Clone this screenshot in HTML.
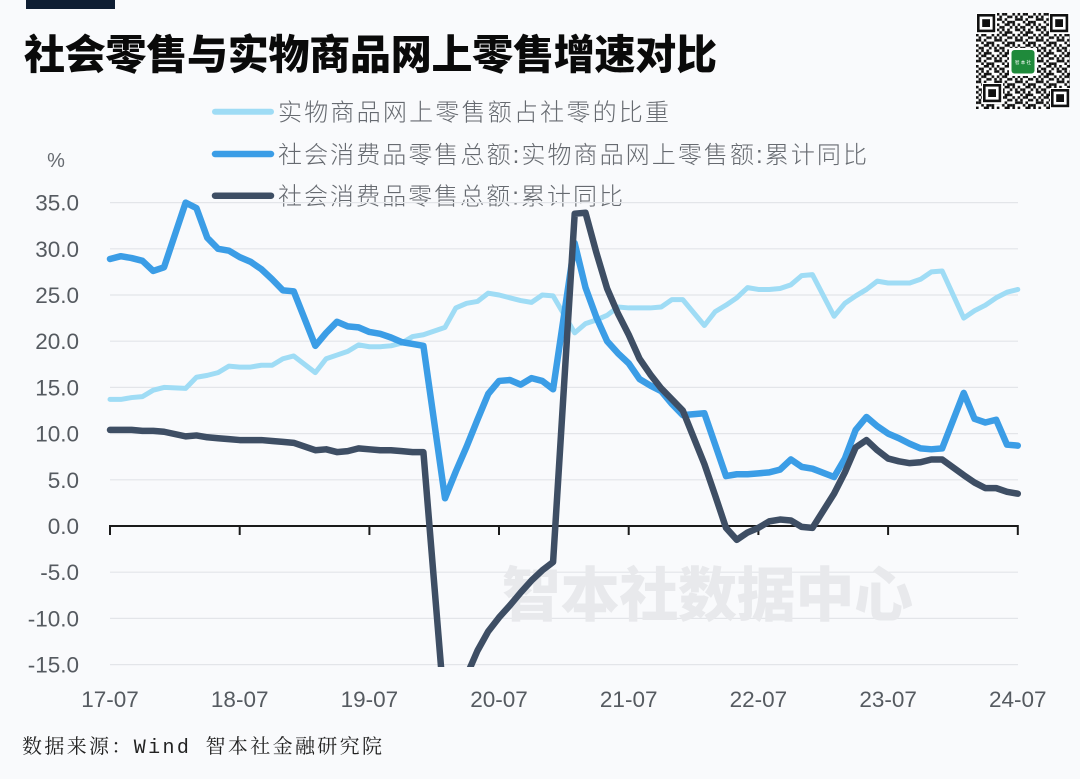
<!DOCTYPE html>
<html>
<head>
<meta charset="utf-8">
<style>
  html,body{margin:0;padding:0;background:#f9fafc;}
  svg{display:block;}
  .ylab{font-family:"Liberation Sans","Noto Sans CJK SC",sans-serif;font-size:22.5px;fill:#555a60;}
  .xlab{font-family:"Liberation Sans","Noto Sans CJK SC",sans-serif;font-size:22.5px;fill:#555a60;}
  .leg{font-family:"Liberation Sans","Noto Sans CJK SC",sans-serif;font-size:24px;font-weight:300;fill:#666a70;}
</style>
</head>
<body>
<svg width="1080" height="779" viewBox="0 0 1080 779" xmlns="http://www.w3.org/2000/svg">
  <defs>
    <clipPath id="plotclip" clipPathUnits="userSpaceOnUse">
      <rect x="100" y="199" width="930" height="468"/>
    </clipPath>
    <pattern id="qrpat" x="0" y="0" width="20.8" height="20.8" patternUnits="userSpaceOnUse">
      <g fill="#111">
        <rect x="0" y="0" width="2.6" height="2.6"/><rect x="5.2" y="0" width="2.6" height="2.6"/><rect x="7.8" y="0" width="2.6" height="2.6"/><rect x="15.6" y="0" width="2.6" height="2.6"/>
        <rect x="2.6" y="2.6" width="2.6" height="2.6"/><rect x="10.4" y="2.6" width="2.6" height="2.6"/><rect x="13" y="2.6" width="2.6" height="2.6"/><rect x="18.2" y="2.6" width="2.6" height="2.6"/>
        <rect x="0" y="5.2" width="2.6" height="2.6"/><rect x="2.6" y="5.2" width="2.6" height="2.6"/><rect x="7.8" y="5.2" width="2.6" height="2.6"/><rect x="18.2" y="5.2" width="2.6" height="2.6"/>
        <rect x="5.2" y="7.8" width="2.6" height="2.6"/><rect x="10.4" y="7.8" width="2.6" height="2.6"/><rect x="13" y="7.8" width="2.6" height="2.6"/><rect x="15.6" y="7.8" width="2.6" height="2.6"/>
        <rect x="0" y="10.4" width="2.6" height="2.6"/><rect x="7.8" y="10.4" width="2.6" height="2.6"/><rect x="10.4" y="10.4" width="2.6" height="2.6"/><rect x="15.6" y="10.4" width="2.6" height="2.6"/>
        <rect x="2.6" y="13" width="2.6" height="2.6"/><rect x="5.2" y="13" width="2.6" height="2.6"/><rect x="13" y="13" width="2.6" height="2.6"/><rect x="18.2" y="13" width="2.6" height="2.6"/>
        <rect x="0" y="15.6" width="2.6" height="2.6"/><rect x="5.2" y="15.6" width="2.6" height="2.6"/><rect x="10.4" y="15.6" width="2.6" height="2.6"/><rect x="18.2" y="15.6" width="2.6" height="2.6"/>
        <rect x="2.6" y="18.2" width="2.6" height="2.6"/><rect x="7.8" y="18.2" width="2.6" height="2.6"/><rect x="10.4" y="18.2" width="2.6" height="2.6"/><rect x="13" y="18.2" width="2.6" height="2.6"/>
      </g>
    </pattern>
  </defs>

  <!-- background -->
  <rect x="0" y="0" width="1080" height="779" fill="#f9fafc"/>

  <!-- top bar -->
  <rect x="26" y="0" width="89" height="9" fill="#0f1e33"/>

  <!-- title -->
  <text x="24" y="69" font-family="'Liberation Sans','Noto Sans CJK SC',sans-serif" font-size="41" font-weight="900" fill="#0a0a0a" textLength="693" lengthAdjust="spacing">社会零售与实物商品网上零售增速对比</text>

  <!-- QR code -->
  <g transform="translate(976,13)">
    <rect x="0" y="0" width="94" height="96" fill="#ffffff"/>
    <rect x="0" y="0" width="94" height="96" fill="url(#qrpat)"/>
    <!-- finders -->
    <g>
      <rect x="0" y="0" width="21" height="21" fill="#fff"/>
      <rect x="1" y="1" width="18.2" height="18.2" fill="#111"/>
      <rect x="3.6" y="3.6" width="13" height="13" fill="#fff"/>
      <rect x="6.2" y="6.2" width="7.8" height="7.8" fill="#111"/>
    </g>
    <g transform="translate(73,0)">
      <rect x="0" y="0" width="21" height="21" fill="#fff"/>
      <rect x="1" y="1" width="18.2" height="18.2" fill="#111"/>
      <rect x="3.6" y="3.6" width="13" height="13" fill="#fff"/>
      <rect x="6.2" y="6.2" width="7.8" height="7.8" fill="#111"/>
    </g>
    <g transform="translate(6,70)">
      <rect x="0" y="0" width="21" height="21" fill="#fff"/>
      <rect x="1" y="1" width="18.2" height="18.2" fill="#111"/>
      <rect x="3.6" y="3.6" width="13" height="13" fill="#fff"/>
      <rect x="6.2" y="6.2" width="7.8" height="7.8" fill="#111"/>
    </g>
    <g transform="translate(74,75)">
      <rect x="0" y="0" width="20" height="21" fill="#fff"/>
      <rect x="1" y="1" width="18.2" height="18.2" fill="#111"/>
      <rect x="3.6" y="3.6" width="13" height="13" fill="#fff"/>
      <rect x="6.2" y="6.2" width="7.8" height="7.8" fill="#111"/>
    </g>
    <!-- green logo -->
    <rect x="33" y="35" width="28" height="28" fill="#ffffff"/>
    <rect x="35.5" y="37" width="23" height="23.5" rx="3" fill="#1f8a3b"/>
    <text x="47" y="51" font-family="'Liberation Sans','Noto Sans CJK SC',sans-serif" font-size="4.5" fill="#ffffff" text-anchor="middle">智 本 社</text>
  </g>

  <!-- legend -->
  <g stroke-linecap="round" fill="none">
    <line x1="215" y1="111.7" x2="271" y2="111.7" stroke="#9fdcf5" stroke-width="6"/>
    <line x1="215" y1="154" x2="271" y2="154" stroke="#3b9de6" stroke-width="6.5"/>
    <line x1="215" y1="195.7" x2="271" y2="195.7" stroke="#3e4e64" stroke-width="6.5"/>
  </g>
  <text class="leg" x="278" y="120.5" textLength="391" lengthAdjust="spacing">实物商品网上零售额占社零的比重</text>
  <text class="leg" x="278" y="163" textLength="589" lengthAdjust="spacing">社会消费品零售总额:实物商品网上零售额:累计同比</text>
  <text class="leg" x="278" y="204.5" textLength="345" lengthAdjust="spacing">社会消费品零售总额:累计同比</text>

  <!-- % unit -->
  <text x="56" y="167" font-family="'Liberation Sans',sans-serif" font-size="20" fill="#666a70" text-anchor="middle">%</text>

  <!-- gridlines -->
  <g stroke="#e3e5e9" stroke-width="1.2">
    <line x1="110" y1="202.6" x2="1018" y2="202.6"/>
    <line x1="110" y1="248.8" x2="1018" y2="248.8"/>
    <line x1="110" y1="295" x2="1018" y2="295"/>
    <line x1="110" y1="341.2" x2="1018" y2="341.2"/>
    <line x1="110" y1="387.4" x2="1018" y2="387.4"/>
    <line x1="110" y1="433.6" x2="1018" y2="433.6"/>
    <line x1="110" y1="479.8" x2="1018" y2="479.8"/>
    <line x1="110" y1="572.2" x2="1018" y2="572.2"/>
    <line x1="110" y1="618.4" x2="1018" y2="618.4"/>
    <line x1="110" y1="664.6" x2="1018" y2="664.6"/>
  </g>

  <!-- watermark -->
  <text x="502" y="616" font-family="'Liberation Sans','Noto Sans CJK SC',sans-serif" font-size="59" font-weight="900" fill="#e8e9ec" textLength="411" lengthAdjust="spacing">智本社数据中心</text>

  <!-- y labels -->
  <g class="ylab" text-anchor="end">
    <text x="79" y="210.6">35.0</text>
    <text x="79" y="256.8">30.0</text>
    <text x="79" y="303">25.0</text>
    <text x="79" y="349.2">20.0</text>
    <text x="79" y="395.4">15.0</text>
    <text x="79" y="441.6">10.0</text>
    <text x="79" y="487.8">5.0</text>
    <text x="79" y="534">0.0</text>
    <text x="79" y="580.2">-5.0</text>
    <text x="79" y="626.4">-10.0</text>
    <text x="79" y="672.6">-15.0</text>
  </g>

  <!-- zero axis + ticks -->
  <g stroke="#1a1a1a" stroke-width="2">
    <line x1="110" y1="526" x2="1018" y2="526"/>
    <line x1="110" y1="525" x2="110" y2="535"/>
    <line x1="239.7" y1="525" x2="239.7" y2="535"/>
    <line x1="369.4" y1="525" x2="369.4" y2="535"/>
    <line x1="499" y1="525" x2="499" y2="535"/>
    <line x1="628.7" y1="525" x2="628.7" y2="535"/>
    <line x1="758.4" y1="525" x2="758.4" y2="535"/>
    <line x1="888.1" y1="525" x2="888.1" y2="535"/>
    <line x1="1017.8" y1="525" x2="1017.8" y2="535"/>
  </g>

  <!-- x labels -->
  <g class="xlab" text-anchor="middle">
    <text x="110" y="707">17-07</text>
    <text x="239.7" y="707">18-07</text>
    <text x="369.4" y="707">19-07</text>
    <text x="499" y="707">20-07</text>
    <text x="628.7" y="707">21-07</text>
    <text x="758.4" y="707">22-07</text>
    <text x="888.1" y="707">23-07</text>
    <text x="1017.8" y="707">24-07</text>
  </g>

  <!-- series -->
  <g clip-path="url(#plotclip)">
    <g transform="translate(110,526) scale(10.807,-9.24)" fill="none" stroke-linejoin="round" stroke-linecap="round">
      <!-- share of online physical goods -->
      <polyline vector-effect="non-scaling-stroke" stroke="#9fdcf5" stroke-width="5"
        points="0,13.7 1,13.7 2,13.9 3,14.0 4,14.7 5,15.0 7,14.9 8,16.1 9,16.3 10,16.6 11,17.3 12,17.2 13,17.2 14,17.4 15,17.4 16,18.1 17,18.4 19,16.6 20,18.1 21,18.5 22,18.9 23,19.6 24,19.4 25,19.4 26,19.5 27,19.8 28,20.5 29,20.7 31,21.5 32,23.6 33,24.1 34,24.3 35,25.2 36,25.0 37,24.7 38,24.4 39,24.2 40,25.0 41,24.9 43,20.9 44,21.9 45,22.3 46,22.8 47,23.7 48,23.6 49,23.6 50,23.6 51,23.7 52,24.5 53,24.5 55,21.7 56,23.2 57,23.9 58,24.7 59,25.8 60,25.6 61,25.6 62,25.7 63,26.1 64,27.1 65,27.2 67,22.7 68,24.1 69,24.9 70,25.6 71,26.5 72,26.3 73,26.3 74,26.3 75,26.7 76,27.5 77,27.6 79,22.5 80,23.3 81,23.9 82,24.7 83,25.3 84,25.6"/>
      <!-- online physical goods cumulative yoy -->
      <polyline vector-effect="non-scaling-stroke" stroke="#3b9de6" stroke-width="6.5"
        points="0,28.9 1,29.2 2,29.0 3,28.7 4,27.6 5,28.0 7,35.0 8,34.4 9,31.2 10,30.0 11,29.8 12,29.1 13,28.6 14,27.8 15,26.7 16,25.5 17,25.4 19,19.5 20,20.9 21,22.1 22,21.6 23,21.5 24,21.0 25,20.8 26,20.4 27,19.9 28,19.7 29,19.5 31,3.0 32,5.9 33,8.6 34,11.5 35,14.3 36,15.7 37,15.8 38,15.3 39,16.0 40,15.7 41,14.8 43,30.6 44,25.8 45,22.6 46,20.0 47,18.7 48,17.6 49,15.9 50,15.2 51,14.6 52,13.2 53,12.0 55,12.2 56,8.8 57,5.4 58,5.6 59,5.6 60,5.7 61,5.8 62,6.1 63,7.2 64,6.4 65,6.2 67,5.3 68,7.3 69,10.4 70,11.8 71,10.8 72,10.0 73,9.5 74,8.9 75,8.4 76,8.3 77,8.4 79,14.4 80,11.6 81,11.2 82,11.5 83,8.8 84,8.7"/>
      <!-- total retail sales cumulative yoy -->
      <polyline vector-effect="non-scaling-stroke" stroke="#3e4e64" stroke-width="6.5"
        points="0,10.4 1,10.4 2,10.4 3,10.3 4,10.3 5,10.2 7,9.7 8,9.8 9,9.6 10,9.5 11,9.4 12,9.3 13,9.3 14,9.3 15,9.2 16,9.1 17,9.0 19,8.2 20,8.3 21,8.0 22,8.1 23,8.4 24,8.3 25,8.2 26,8.2 27,8.1 28,8.0 29,8.0 31,-20.5 32,-19.0 33,-16.2 34,-13.5 35,-11.4 36,-9.9 37,-8.6 38,-7.2 39,-5.9 40,-4.8 41,-3.9 43,33.8 44,33.9 45,29.6 46,25.7 47,23.0 48,20.7 49,18.1 50,16.4 51,14.9 52,13.7 53,12.5 55,6.7 56,3.3 57,-0.2 58,-1.5 59,-0.7 60,-0.2 61,0.5 62,0.7 63,0.6 64,-0.1 65,-0.2 67,3.5 68,5.8 69,8.5 70,9.3 71,8.2 72,7.3 73,7.0 74,6.8 75,6.9 76,7.2 77,7.2 79,5.5 80,4.7 81,4.1 82,4.1 83,3.7 84,3.5"/>
    </g>
  </g>

  <!-- footer -->
  <text x="22" y="753" font-family="'Liberation Mono','Noto Serif CJK SC',monospace" font-size="20" fill="#222222" textLength="360" lengthAdjust="spacing">数据来源：Wind 智本社金融研究院</text>
</svg>
</body>
</html>
